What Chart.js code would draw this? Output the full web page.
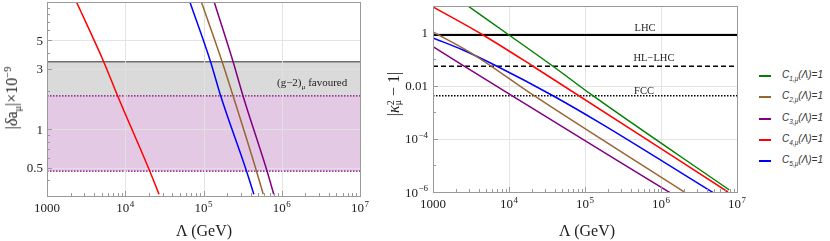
<!DOCTYPE html>
<html>
<head>
<meta charset="utf-8">
<script src="https://cdn.jsdelivr.net/npm/chart.js@4.4.1/dist/chart.umd.min.js"></script>
<style>
  body { margin: 0; width: 830px; height: 241px; position: relative; overflow: hidden; background: #fff;
         font-family: 'Liberation Serif', serif; color: #222; }
  canvas { position: absolute; top: 0; }
  #cA { left: 0; }
  #cB { left: 380px; }
  .txt { position: absolute; white-space: nowrap; line-height: 1; }
  .rot { transform: translate(-50%, -50%) rotate(-90deg); }
  .ctr { transform: translate(-50%, -50%); }
  sub, sup { font-size: 65%; line-height: 0; }
  .stack { display: inline-block; vertical-align: -0.25em; line-height: 0.75; font-size: 62%; }
  .stack span { display: block; }
  #legend { position: absolute; left: 759px; top: 0; font-family: 'Liberation Sans', sans-serif;
            font-style: italic; font-size: 10px; color: #333; }
  .row { position: absolute; left: 0; width: 70px; height: 1px; }
  .sw { position: absolute; left: 0; top: -1px; width: 12px; height: 2px; }
  .lab { position: absolute; left: 23px; top: -6px; white-space: nowrap; line-height: 1; }
</style>
</head>
<body>
<canvas id="cA" width="375" height="241"></canvas>
<canvas id="cB" width="370" height="241"></canvas>

<div class="txt rot" style="left:12px;top:98px;font-size:16px">|<i>δ</i>a<sub>μ</sub>|×10<sup>−9</sup></div>
<div class="txt ctr" style="left:204px;top:231px;font-size:16px">Λ (GeV)</div>
<div class="txt" style="left:277px;top:77px;font-size:11px">(g−2)<sub>μ</sub> favoured</div>

<div class="txt rot" style="left:394px;top:94px;font-size:16px">|<i>κ</i><span class="stack"><span>2</span><span>μ</span></span> − 1|</div>
<div class="txt ctr" style="left:587px;top:231px;font-size:16px">Λ (GeV)</div>
<div class="txt ctr" style="left:645px;top:28px;font-size:10.5px">LHC</div>
<div class="txt ctr" style="left:654px;top:58px;font-size:10.5px">HL−LHC</div>
<div class="txt ctr" style="left:644px;top:91px;font-size:10.5px">FCC</div>

<div id="legend"></div>

<script>
// ---- reading of the left panel: |delta a_mu| x 1e-9 vs Lambda (GeV)
const aMuRed    = [[2380, 10], [5300, 3.4], [8000, 1.83], [20600, 0.47], [27000, 0.31]];
const aMuBlue   = [[67000, 10], [123000, 3.4], [166000, 1.83], [355000, 0.47], [440000, 0.31]];
const aMuBrown  = [[94000, 10], [173000, 3.4], [239000, 1.83], [476000, 0.47], [580000, 0.31]];
const aMuPurple = [[137000, 10], [239000, 3.4], [320000, 1.83], [650000, 0.47], [790000, 0.31]];
const g2Upper = 3.4;   // grey band top
const g2Mid = 1.83;    // grey / purple boundary
const g2Lower = 0.47;  // purple band bottom

// ---- reading of the right panel: |kappa_mu^2 - 1| vs Lambda (GeV)
const kGreen  = [[2880, 10], [10000, 0.81], [37900, 0.054], [127000, 0.0042], [7900000, 1.2e-6]];
const kBrown  = [[1000, 1.05], [3070, 0.18], [21400, 0.0042], [2140000, 9e-7]];
const kPurple = [[1000, 0.295], [10900, 0.0042], [1350000, 9e-7]];
const kRed    = [[1000, 9.2], [4550, 0.81], [20700, 0.054], [7600000, 1e-6]];
const kBlue   = [[1000, 0.63], [2480, 0.22], [6950, 0.054], [37900, 0.0042], [157000, 4e-4], [5000000, 9e-7]];
const lhcLimit = 0.81;
const hlLhcLimit = 0.054;
const fccLimit = 0.0042;

const legendIndex = ['1', '2', '3', '4', '5'];

// ticks
const lambdaTicks = [1e3, 1e4, 1e5, 1e6, 1e7];
const lambdaLabels = ['1000', '10^4', '10^5', '10^6', '10^7'];
const aMuTicks = [0.5, 1, 3, 5];
const aMuLabels = ['0.5', '1', '3', '5'];
const kTicks = [1e-6, 1e-4, 0.01, 1];
const kLabels = ['10^\u22126', '10^\u22124', '0.01', '1'];

const RED = '#ff0000', BLUE = '#0000ff', BROWN = '#996633', PURPLE = '#800080', GREEN = '#008000';
const SERIF = '"Liberation Serif", serif';

// tick label with optional exponent "base^exp"
const drawTickLabel = (ctx, label, x, y, align) => {
    const [base, exp] = label.split('^');
    ctx.font = '13px ' + SERIF;
    const wb = ctx.measureText(base).width;
    let we = 0;
    if (exp) {
        ctx.font = '9px ' + SERIF;
        we = ctx.measureText(exp).width + 0.5;
    }
    const x0 = align === 'center' ? x - (wb + we) / 2 : x - wb - we;
    ctx.font = '13px ' + SERIF;
    ctx.fillText(base, x0, y);
    if (exp) {
        ctx.font = '9px ' + SERIF;
        ctx.fillText(exp, x0 + wb + 0.5, y - 5.5);
    }
};

const logMarks = (min, max, minors) => {
    const out = [];
    for (let e = Math.floor(Math.log10(min)); e <= Math.ceil(Math.log10(max)); e++) {
        for (let m = 1; m <= (minors ? 9 : 1); m++) {
            const v = m * Math.pow(10, e);
            if (v >= min * 0.999 && v <= max * 1.001) out.push(v);
        }
    }
    return out;
};

const isIn = (list, v) => list.some(t => Math.abs(t - v) / t < 1e-6);

// grid, frame, inner tick marks and tick labels
const axisFrame = {
    id: 'axisFrame',
    beforeDatasetDraw(chart, args, opts) {
        if (args.index !== opts.gridIndex) return;
        const { ctx, chartArea: a, scales: { x, y } } = chart;
        ctx.save();
        ctx.strokeStyle = 'rgba(225,225,225,0.9)';
        ctx.lineWidth = 1;
        ctx.beginPath();
        opts.xTicks.slice(1, -1).forEach(v => {
            const px = Math.round(x.getPixelForValue(v)) + 0.5;
            ctx.moveTo(px, a.top); ctx.lineTo(px, a.bottom);
        });
        opts.yTicks.forEach(v => {
            const py = Math.round(y.getPixelForValue(v)) + 0.5;
            ctx.moveTo(a.left, py); ctx.lineTo(a.right, py);
        });
        ctx.stroke();
        ctx.restore();
    },
    afterDraw(chart, args, opts) {
        const { ctx, chartArea: a, scales: { x, y } } = chart;
        ctx.save();
        ctx.strokeStyle = '#9a9a9a';
        ctx.lineWidth = 1;
        ctx.strokeRect(a.left + 0.5, a.top + 0.5, a.right - a.left, a.bottom - a.top);

        ctx.beginPath();
        logMarks(x.min, x.max, true).forEach(v => {
            const px = Math.round(x.getPixelForValue(v)) + 0.5;
            const len = isIn(opts.xTicks, v) ? 5 : 3;
            ctx.moveTo(px, a.bottom); ctx.lineTo(px, a.bottom - len);
        });
        logMarks(y.min, y.max, opts.yMinors).forEach(v => {
            const py = Math.round(y.getPixelForValue(v)) + 0.5;
            const len = isIn(opts.yTicks, v) ? 5 : 3;
            ctx.moveTo(a.left, py); ctx.lineTo(a.left + len, py);
        });
        ctx.stroke();

        ctx.fillStyle = '#222';
        ctx.textBaseline = 'alphabetic';
        opts.xTicks.forEach((v, i) => drawTickLabel(ctx, opts.xLabels[i], x.getPixelForValue(v), a.bottom + 16, 'center'));
        opts.yTicks.forEach((v, i) => drawTickLabel(ctx, opts.yLabels[i], a.left - opts.yGap, y.getPixelForValue(v) + 4.5, 'right'));
        ctx.restore();
    }
};

const curve = (data, color) => ({ data, borderColor: color, borderWidth: 1.5, fill: false });
const hline = (v, xMin, xMax, color, width, dash) => ({
    data: [[xMin, v], [xMax, v]], borderColor: color, borderWidth: width, borderDash: dash, fill: false
});

const makeChart = (id, datasets, o) => new Chart(document.getElementById(id), {
    type: 'line',
    data: { datasets },
    plugins: [axisFrame],
    options: {
        responsive: false,
        animation: false,
        events: [],
        layout: { padding: o.pad },
        elements: { point: { radius: 0 }, line: { cubicInterpolationMode: 'monotone' } },
        plugins: {
            legend: { display: false },
            tooltip: { enabled: false },
            axisFrame: o.frame
        },
        scales: {
            x: { type: 'logarithmic', min: 1e3, max: 1e7, display: false },
            y: { type: 'logarithmic', min: o.yMin, max: o.yMax, display: false }
        }
    }
});

// left panel
makeChart('cA', [
    curve(aMuRed, RED),
    curve(aMuBlue, BLUE),
    curve(aMuBrown, BROWN),
    curve(aMuPurple, PURPLE),
    hline(g2Upper, 1e3, 1e7, '#6e6e6e', 1.5, []),
    Object.assign(hline(g2Mid, 1e3, 1e7, PURPLE, 1.3, [1.5, 1.5]), { fill: '-1', backgroundColor: '#dadada' }),
    Object.assign(hline(g2Lower, 1e3, 1e7, PURPLE, 1.3, [1.5, 1.5]), { fill: '-1', backgroundColor: '#e3c9e3' })
], {
    pad: { left: 47, right: 15, top: 2, bottom: 45 },
    yMin: 0.31, yMax: 10,
    frame: { gridIndex: 3, xTicks: lambdaTicks, xLabels: lambdaLabels, yTicks: aMuTicks, yLabels: aMuLabels, yMinors: true, yGap: 4 }
});

// right panel
makeChart('cB', [
    curve(kGreen, GREEN),
    curve(kBrown, BROWN),
    curve(kPurple, PURPLE),
    curve(kRed, RED),
    curve(kBlue, BLUE),
    hline(lhcLimit, 1e3, 1e7, '#000', 2, []),
    hline(hlLhcLimit, 1e3, 1e7, '#000', 1.5, [5, 3]),
    hline(fccLimit, 1e3, 1e7, '#000', 1.5, [1.5, 1.5])
], {
    pad: { left: 53, right: 13, top: 6, bottom: 49 },
    yMin: 1e-6, yMax: 10,
    frame: { gridIndex: 7, xTicks: lambdaTicks, xLabels: lambdaLabels, yTicks: kTicks, yLabels: kLabels, yMinors: false, yGap: 5 }
});

// legend
const legendColors = [GREEN, BROWN, PURPLE, RED, BLUE];
document.getElementById('legend').innerHTML = legendIndex.map((n, i) => `
    <div class="row" style="top:${76 + i * 21.3}px">
        <div class="sw" style="background:${legendColors[i]}"></div>
        <div class="lab">C<sub>${n},μ</sub>(Λ)=1</div>
    </div>`).join('');
</script>
</body>
</html>
